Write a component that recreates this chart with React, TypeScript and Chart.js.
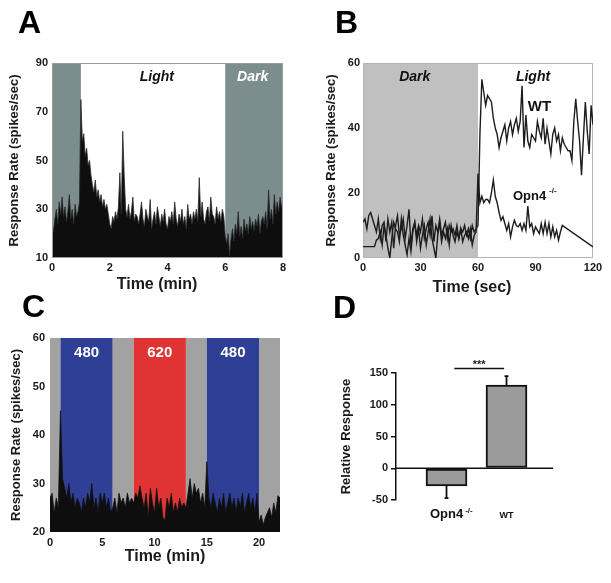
import React, { useEffect, useRef } from "react";
import { Chart, registerables } from "chart.js";

Chart.register(...registerables);

const FONT = "'Liberation Sans', Arial, Helvetica, sans-serif";
const INK = "#1a1a1a";

// ---------------- Panel A ----------------
const stepA = 0.05; // minutes per bin
const rateA = [
  20, 21, 26, 30, 24, 33, 28, 35, 27, 31, 25, 29, 36, 26, 30, 24, 32, 27, 29, 33,
  75, 58, 61, 52, 55, 48, 50, 44, 40, 37, 42, 35, 38, 33, 36, 31, 34, 30, 32, 28,
  24, 22, 27, 25, 29, 26, 31, 45, 28, 62, 44, 30, 27, 32, 26, 29, 35, 25, 28, 27,
  24, 28, 33, 26, 23, 30, 27, 25, 34, 22, 26, 29, 24, 31, 27, 23, 28, 25, 30, 24,
  22, 27, 25, 29, 24, 33, 26, 23, 28, 25, 30, 24, 27, 22, 32, 26, 28, 24, 29, 26,
  30, 25, 43, 27, 33, 26, 24, 29, 31, 25, 35, 28, 27, 24, 31, 26, 29, 25, 30, 27,
  19, 16, 20, 11, 18, 22, 17, 24, 20, 29, 19, 23, 18, 26, 21, 24, 20, 27, 22, 25,
  21, 26, 23, 28, 20, 25, 27, 24, 29, 22, 38, 26, 30, 24, 36, 28, 33, 29, 35, 31,
  30,
];
const bandsA = [[0, 1], [6, 8]];
const bandColorA = "#7c8d8d";
const yTicksA = [10, 30, 50, 70, 90];
const xTicksA = [0, 2, 4, 6, 8];

// ---------------- Panel B ----------------
const wtB = [
  11, 12, 9, 13, 14, 12, 10, 8, 12, 6,
  10, 11, 5, 12, 8, 11, 3, 10, 13, 7,
  9, 12, 6, 10, 15, 4, 9, 11, 7, 10,
  8, 12, 6, 9, 11, 7, 13, 5, 10, 8,
  12, 7, 9, 11, 6, 10, 8, 9, 7, 10,
  6, 9, 8, 10, 7, 9, 6, 10, 8, 9,
  10, 38, 55, 51, 47, 50, 49, 48, 43, 40,
  38, 34, 37, 39, 41, 36, 40, 42, 38, 41,
  43, 39, 42, 53, 34, 44, 36, 34, 38, 37,
  36, 42, 39, 37, 43, 35, 40, 36, 32, 38,
  40, 36, 38, 33, 37, 35, 34, 33, 33, 30,
  42, 49, 42, 36, 25.5, 37, 48, 39, 32, 47,
  41,
];
const opnB = [
  3.5, 3.5, 3.5, 3.5, 3.5, 3.5, 3.5, 5.5, 6, 8,
  4, 10, 7, 3, 0, 6, 11, 9, 8, 5,
  12, 7, 4, 1, 6, 2, 8, 11, 5, 9,
  3, 7, 10, 4, 8, 12, 6, 3, 0, 7,
  11, 5, 8, 6, 9, 4, 10, 7, 5, 8,
  6, 9, 5, 7, 8, 6, 9, 4, 7, 8,
  26, 17, 19, 17, 18, 18, 17, 20, 24, 19,
  17, 14, 11.6, 12.7, 10.6, 8.5, 10.6, 6.5, 9.6, 11.6,
  10, 9.6, 10.6, 8.5, 10.6, 8.5, 16, 9.6, 10.6, 7.5,
  9.6, 8.5, 7.5, 10.6, 7.5, 11, 7.5, 10.6, 6.5, 9.6,
  6.5, 8.5, 5.5, 8, 10, null, null, null, null, null,
  null, null, null, null, null, null, null, null, null, null,
  3.4,
];
const bandsB = [[0, 60]];
const bandColorB = "#c0c0c0";
const yTicksB = [0, 20, 40, 60];
const xTicksB = [0, 30, 60, 90, 120];

// ---------------- Panel C ----------------
const stepC = 0.2; // minutes per bin
const rateC = [
  27, 28, 24, 27, 25, 45, 31, 29, 27, 30,
  26, 28, 25, 27, 26, 24, 27, 25, 28, 26,
  30, 25, 27, 24, 28, 26, 28, 25, 27, 24,
  25, 27, 24, 28, 26, 27, 25, 28, 26, 27,
  26, 28, 27, 29.5, 27, 25, 28, 23, 29, 26,
  24, 29, 25, 27, 23, 22.5, 27, 25, 28, 24,
  26, 24, 27, 25, 26, 25, 28, 31, 27, 30,
  28, 29, 26, 28, 25, 34.5, 27, 25, 28, 26,
  24, 27, 25, 28, 24, 26, 28, 25, 27, 24,
  27, 25, 28, 24, 26, 28, 25, 27, 24, 28,
  22, 23.5, 21.5, 23, 24, 25, 23, 26, 24, 27.5,
  27,
];
const bandsC = [[0, 1], [1, 6], [6, 8], [8, 13], [13, 15], [15, 20], [20, 22]];
const bandColorsC = ["#a2a2a2", "#2f3f95", "#a2a2a2", "#e03434", "#a2a2a2", "#2f3f95", "#a2a2a2"];
const bandLabelsC = ["", "480", "", "620", "", "480", ""];
const yTicksC = [20, 30, 40, 50, 60];
const xTicksC = [0, 5, 10, 15, 20];

// ---------------- Panel D ----------------
const groupsD = ["Opn4", "WT"];
const groupSupD = ["-/-", ""];
const groupFontD = [13, 9];
const meanD = [-28, 131];
const semD = [19, 14];
const sigLevelD = 157;
const sigSpanD = [1.13, 1.96];
const yTicksD = [-50, 0, 50, 100, 150];

// ---------------- helpers ----------------
const fixedTicks = (vals: number[]) => (s: any) => {
  s.ticks = vals.map((v) => ({ value: v }));
};
const tickFont = { family: FONT, size: 11, weight: "bold" as const };

function text(ctx: CanvasRenderingContext2D, s: string, x: number, y: number, font: string, color: string, align: CanvasTextAlign = "center", baseline: CanvasTextBaseline = "middle") {
  ctx.save();
  ctx.font = font;
  ctx.fillStyle = color;
  ctx.textAlign = align;
  ctx.textBaseline = baseline;
  ctx.fillText(s, x, y);
  ctx.restore();
}

function bandPlugin(bands: number[][], colors: string[]) {
  return {
    id: "bands",
    beforeDatasetsDraw(chart: any) {
      const { ctx, chartArea: ca, scales } = chart;
      const x = scales.x;
      ctx.save();
      bands.forEach((b, i) => {
        const x0 = x.getPixelForValue(b[0]);
        const x1 = x.getPixelForValue(b[1]);
        ctx.fillStyle = colors[i];
        ctx.fillRect(x0, ca.top, x1 - x0, ca.bottom - ca.top);
      });
      ctx.restore();
    },
  };
}

function yScale(min: number, max: number, ticks: number[], width: number, title: string, titlePad: number, extra: any = {}) {
  return {
    type: "linear",
    min,
    max,
    afterFit: (s: any) => { s.width = width; },
    afterBuildTicks: fixedTicks(ticks),
    grid: { display: false, drawTicks: false },
    border: { display: false },
    ticks: { font: tickFont, color: INK, padding: 4 },
    title: {
      display: true,
      text: title,
      font: { family: FONT, size: 13, weight: "bold" },
      color: INK,
      padding: { top: titlePad, bottom: 0 },
    },
    ...extra,
  };
}

function xScale(min: number, max: number, ticks: number[], height: number, pad: number) {
  return {
    type: "linear",
    min,
    max,
    afterFit: (s: any) => { s.height = height; },
    afterBuildTicks: fixedTicks(ticks),
    grid: { display: false, drawTicks: false },
    border: { display: false },
    ticks: { font: tickFont, color: INK, padding: pad, maxRotation: 0, autoSkip: false },
  };
}

const baseOpts = {
  responsive: false,
  animation: false,
  events: [],
  plugins: { legend: { display: false }, tooltip: { enabled: false } },
};

// ---------------- configs ----------------
function configA() {
  const decor = {
    id: "decorA",
    afterDatasetsDraw(chart: any) {
      const { ctx, chartArea: ca, scales: { x, y } } = chart;
      ctx.save();
      ctx.strokeStyle = "#9a9a9a";
      ctx.lineWidth = 1;
      ctx.strokeRect(ca.left + 0.5, ca.top + 0.5, ca.right - ca.left - 1, ca.bottom - ca.top - 1);
      ctx.restore();
      text(ctx, "Light", x.getPixelForValue(3.63), y.getPixelForValue(84), `italic bold 14px ${FONT}`, "#111");
      text(ctx, "Dark", x.getPixelForValue(6.95), y.getPixelForValue(84), `italic bold 14px ${FONT}`, "#ffffff");
    },
    afterDraw(chart: any) {
      const { ctx } = chart;
      text(ctx, "Time (min)", 157, 285, `bold 16px ${FONT}`, INK);
      text(ctx, "A", 18, 33, `bold 32px ${FONT}`, "#000", "left", "alphabetic");
    },
  };
  return {
    type: "line",
    data: {
      datasets: [{
        data: rateA.map((v, i) => ({ x: i * stepA, y: v })),
        borderColor: "#2a2a2a",
        borderWidth: 0.8,
        backgroundColor: "#0e0e0e",
        fill: "start",
        pointRadius: 0,
        tension: 0,
      }],
    },
    options: {
      ...baseOpts,
      layout: { padding: { top: 63, right: 22, left: 0, bottom: 0 } },
      scales: {
        x: xScale(0, 8, xTicksA, 42, 3),
        y: yScale(10, 90, yTicksA, 52, "Response Rate (spikes/sec)", 6.7),
      },
    },
    plugins: [bandPlugin(bandsA, bandsA.map(() => bandColorA)), decor],
  };
}

function configB() {
  const decor = {
    id: "decorB",
    beforeDatasetsDraw(chart: any) {
      const { ctx, chartArea: ca } = chart;
      ctx.save();
      ctx.strokeStyle = "#b5b5b5";
      ctx.lineWidth = 1;
      ctx.strokeRect(ca.left + 0.5, ca.top + 0.5, ca.right - ca.left - 1, ca.bottom - ca.top - 1);
      ctx.restore();
      const { scales: { x, y } } = chart;
      text(ctx, "Dark", x.getPixelForValue(27), y.getPixelForValue(55.7), `italic bold 14px ${FONT}`, "#111");
      text(ctx, "Light", x.getPixelForValue(88.7), y.getPixelForValue(55.7), `italic bold 14px ${FONT}`, "#111");
    },
    afterDatasetsDraw(chart: any) {
      const { ctx, scales: { x, y } } = chart;
      text(ctx, "WT", x.getPixelForValue(86), y.getPixelForValue(45.2), `bold 15px ${FONT}`, "#111", "left", "alphabetic");
      const ox = x.getPixelForValue(78.2);
      const oy = y.getPixelForValue(17.8);
      ctx.save();
      ctx.font = `bold 13px ${FONT}`;
      const w = ctx.measureText("Opn4").width;
      ctx.restore();
      text(ctx, "Opn4", ox, oy, `bold 13px ${FONT}`, "#111", "left", "alphabetic");
      text(ctx, "-/-", ox + w + 3, oy - 7, `bold 8px ${FONT}`, "#111", "left", "alphabetic");
    },
    afterDraw(chart: any) {
      const { ctx } = chart;
      text(ctx, "Time (sec)", 167, 288, `bold 16px ${FONT}`, INK);
      text(ctx, "B", 30, 33, `bold 32px ${FONT}`, "#000", "left", "alphabetic");
    },
  };
  const line = (vals: (number | null)[]) => vals.map((v, i) => ({ x: i, y: v }));
  return {
    type: "line",
    data: {
      datasets: [
        { data: line(wtB), borderColor: "#1c1c1c", borderWidth: 1.4, pointRadius: 0, tension: 0, fill: false },
        { data: line(opnB), borderColor: "#1c1c1c", borderWidth: 1.4, pointRadius: 0, tension: 0, fill: false, spanGaps: true },
      ],
    },
    options: {
      ...baseOpts,
      layout: { padding: { top: 63, right: 18, left: 0, bottom: 0 } },
      scales: {
        x: xScale(0, 120, xTicksB, 42, 3),
        y: yScale(0, 60, yTicksB, 58, "Response Rate (spikes/sec)", 18.7, { ticks: { font: tickFont, color: INK, padding: 3 } }),
      },
    },
    plugins: [bandPlugin(bandsB, [bandColorB]), decor],
  };
}

function configC() {
  const decor = {
    id: "decorC",
    afterDatasetsDraw(chart: any) {
      const { ctx, scales: { x, y } } = chart;
      bandsC.forEach((b, i) => {
        if (!bandLabelsC[i]) return;
        text(ctx, bandLabelsC[i], x.getPixelForValue((b[0] + b[1]) / 2), y.getPixelForValue(56.9), `bold 15px ${FONT}`, "#ffffff");
      });
    },
    afterDraw(chart: any) {
      const { ctx } = chart;
      text(ctx, "Time (min)", 165, 267, `bold 16px ${FONT}`, INK);
      text(ctx, "C", 22, 27, `bold 32px ${FONT}`, "#000", "left", "alphabetic");
    },
  };
  return {
    type: "line",
    data: {
      datasets: [{
        data: rateC.map((v, i) => ({ x: i * stepC, y: v })),
        borderColor: "#111",
        borderWidth: 0.8,
        backgroundColor: "#0e0e0e",
        fill: "start",
        pointRadius: 0,
        tension: 0,
      }],
    },
    options: {
      ...baseOpts,
      layout: { padding: { top: 48, right: 25, left: 0, bottom: 0 } },
      scales: {
        x: xScale(0, 22, xTicksC, 51, 4.5),
        y: yScale(20, 60, yTicksC, 50, "Response Rate (spikes/sec)", 8.7, { ticks: { font: tickFont, color: INK, padding: 5 } }),
      },
    },
    plugins: [bandPlugin(bandsC, bandColorsC), decor],
  };
}

function configD() {
  const decor = {
    id: "decorD",
    beforeDatasetsDraw(chart: any) {
      const { ctx, chartArea: ca, scales: { y } } = chart;
      const y0 = y.getPixelForValue(0);
      ctx.save();
      ctx.strokeStyle = "#111";
      ctx.lineWidth = 1.6;
      ctx.beginPath();
      ctx.moveTo(ca.left, y0);
      ctx.lineTo(ca.right, y0);
      ctx.stroke();
      ctx.restore();
    },
    afterDatasetsDraw(chart: any) {
      const { ctx, chartArea: ca, scales: { x, y } } = chart;
      ctx.save();
      ctx.strokeStyle = "#111";
      ctx.lineWidth = 1.8;
      meanD.forEach((m, i) => {
        const cx = x.getPixelForValue(i + 1);
        const end = m < 0 ? m - semD[i] : m + semD[i];
        const ya = y.getPixelForValue(m);
        const yb = y.getPixelForValue(end);
        ctx.beginPath();
        ctx.moveTo(cx, ya);
        ctx.lineTo(cx, yb);
        ctx.moveTo(cx - 2, yb);
        ctx.lineTo(cx + 2, yb);
        ctx.stroke();
      });
      // significance bar
      const ys = y.getPixelForValue(sigLevelD);
      const xa = x.getPixelForValue(sigSpanD[0]);
      const xb = x.getPixelForValue(sigSpanD[1]);
      ctx.lineWidth = 1.5;
      ctx.beginPath();
      ctx.moveTo(xa, ys);
      ctx.lineTo(xb, ys);
      ctx.stroke();
      ctx.restore();
      text(ctx, "***", (xa + xb) / 2, ys - 4, `bold 11px ${FONT}`, "#222", "center", "middle");
      // category labels
      groupsD.forEach((g, i) => {
        const cx = x.getPixelForValue(i + 1);
        const by = ca.bottom + 18;
        const f = groupFontD[i];
        ctx.save();
        ctx.font = `bold ${f}px ${FONT}`;
        const w = ctx.measureText(g).width;
        ctx.restore();
        text(ctx, g, cx - w / 2, by, `bold ${f}px ${FONT}`, "#111", "left", "alphabetic");
        if (groupSupD[i]) text(ctx, groupSupD[i], cx + w / 2 + 2, by - 5, `bold 8px ${FONT}`, "#111", "left", "alphabetic");
      });
    },
    afterDraw(chart: any) {
      text(chart.ctx, "D", 28, 28, `bold 32px ${FONT}`, "#000", "left", "alphabetic");
    },
  };
  return {
    type: "bar",
    data: {
      datasets: [{
        data: meanD.map((v, i) => ({ x: i + 1, y: v })),
        backgroundColor: "#9b9b9b",
        borderColor: "#111",
        borderWidth: 2,
        borderSkipped: false,
        barThickness: 41,
      }],
    },
    options: {
      ...baseOpts,
      layout: { padding: { top: 83, right: 58, left: 0, bottom: 83 } },
      scales: {
        x: { type: "linear", min: 0.158, max: 2.775, display: false, offset: false },
        y: {
          type: "linear",
          min: -50,
          max: 150,
          afterFit: (s: any) => { s.width = 91; },
          afterBuildTicks: fixedTicks(yTicksD),
          grid: { display: true, drawOnChartArea: false, drawTicks: true, tickLength: 5, color: "#111", lineWidth: 1.5 },
          border: { display: true, color: "#111", width: 1.5 },
          ticks: { font: tickFont, color: INK, padding: 3 },
          title: {
            display: true,
            text: "Relative Response",
            font: { family: FONT, size: 13, weight: "bold" },
            color: INK,
            padding: { top: 33.7, bottom: 0 },
          },
        },
      },
    },
    plugins: [decor],
  };
}

function Panel({ left, top, width, height, make }: { left: number; top: number; width: number; height: number; make: () => any }) {
  const ref = useRef<HTMLCanvasElement>(null);
  useEffect(() => {
    const chart = new Chart(ref.current as HTMLCanvasElement, make());
    return () => chart.destroy();
  }, []);
  return (
    <canvas
      ref={ref}
      width={width}
      height={height}
      style={{ position: "absolute", left, top, width, height }}
    />
  );
}

export default function App() {
  return (
    <div style={{ position: "absolute", left: 0, top: 0, width: 611, height: 583, background: "#fff", overflow: "hidden" }}>
      <Panel left={0} top={0} width={305} height={300} make={configA} />
      <Panel left={305} top={0} width={306} height={300} make={configB} />
      <Panel left={0} top={290} width={305} height={293} make={configC} />
      <Panel left={305} top={290} width={306} height={293} make={configD} />
    </div>
  );
}
